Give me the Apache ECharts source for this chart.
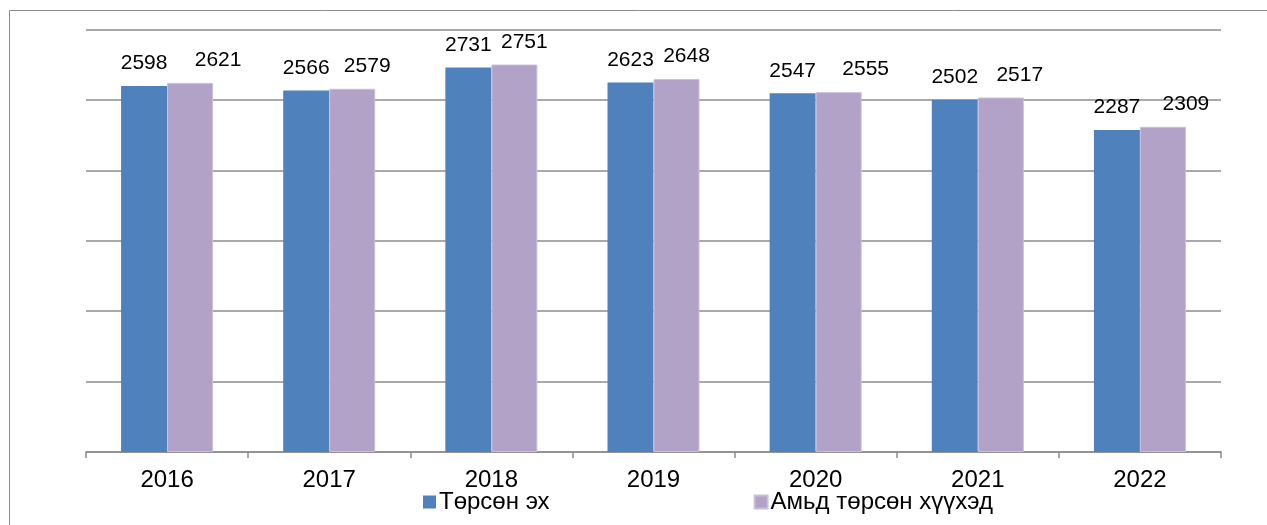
<!DOCTYPE html>
<html>
<head>
<meta charset="utf-8">
<script src="https://cdn.jsdelivr.net/npm/echarts@6/dist/echarts.min.js"></script>
<style>
  html, body { margin: 0; padding: 0; background: #fff; }
  #chart { width: 1267px; height: 525px; }
</style>
</head>
<body>
<div id="chart"></div>
<script>
var years = ['2016', '2017', '2018', '2019', '2020', '2021', '2022'];
var mothers = [2598, 2566, 2731, 2623, 2547, 2502, 2287];   // Төрсөн эх
var liveBirths = [2621, 2579, 2751, 2648, 2555, 2517, 2309]; // Амьд төрсөн хүүхэд

// horizontal nudge of the purple labels, as in the original (px)
var purpleLabelShift = [28, 15, 10, 10, 27, 19, 23];

var font = "'Liberation Sans', Arial, sans-serif";

var purpleData = liveBirths.map(function (v, i) {
    return { value: v, label: { offset: [purpleLabelShift[i], 0] } };
});

var myChart = echarts.init(document.getElementById('chart'));
var option = {
    animation: false,
    backgroundColor: '#fff',
    graphic: [{
        type: 'rect',
        left: 7,
        top: 8,
        shape: { width: 1300, height: 600 },
        style: { fill: 'none', stroke: '#8c8c8c', lineWidth: 1 },
        silent: true
    }],
    grid: { left: 86, right: 46, top: 29.5, bottom: 73 },
    legend: {
        left: 423,
        top: 490,
        padding: 0,
        itemWidth: 13,
        itemHeight: 13,
        itemGap: 204,
        icon: 'rect',
        textStyle: { fontFamily: font, fontSize: 24, color: '#000', padding: [0, 0, 0, -2] },
        data: ['Төрсөн эх', 'Амьд төрсөн хүүхэд']
    },
    xAxis: {
        type: 'category',
        data: years,
        axisLine: { lineStyle: { color: '#8c8c8c', width: 1.5 } },
        axisTick: { show: true, length: 6, lineStyle: { color: '#8c8c8c', width: 1.5 } },
        axisLabel: { fontFamily: font, fontSize: 24, color: '#000', margin: 16 }
    },
    yAxis: {
        type: 'value',
        min: 0,
        max: 3000,
        interval: 500,
        axisLabel: { show: false },
        axisLine: { show: false },
        axisTick: { show: false },
        splitLine: { lineStyle: { color: '#8c8c8c', width: 1.5 } }
    },
    series: [{
        name: 'Төрсөн эх',
        type: 'bar',
        data: mothers,
        barWidth: 46,
        barGap: '0%',
        itemStyle: { color: '#4f81bd' },
        label: {
            show: true, position: 'top', distance: 12,
            fontFamily: font, fontSize: 21, color: '#000'
        }
    }, {
        name: 'Амьд төрсөн хүүхэд',
        type: 'bar',
        data: purpleData,
        barWidth: 46,
        itemStyle: { color: '#b2a2c7', borderColor: '#c9bfd9', borderWidth: 1 },
        label: {
            show: true, position: 'top', distance: 12,
            fontFamily: font, fontSize: 21, color: '#000'
        }
    }]
};
myChart.setOption(option);
</script>
</body>
</html>
